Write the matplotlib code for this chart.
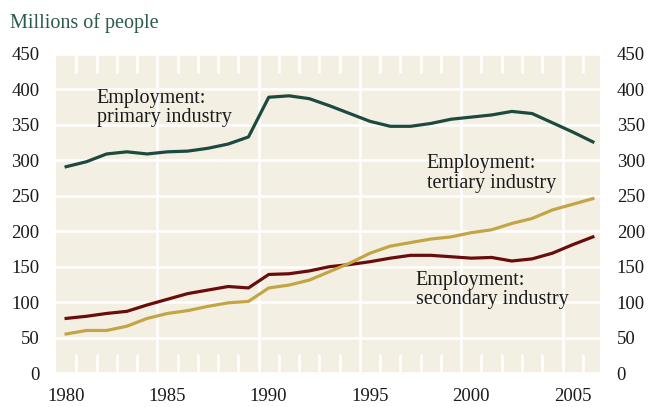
import matplotlib
matplotlib.use("Agg")
import matplotlib.pyplot as plt
import matplotlib.transforms as mtransforms
import numpy as np

plt.rcParams["font.family"] = ["Liberation Serif", "DejaVu Serif"]

years = list(range(1980, 2007))
primary = [291, 298, 309, 312, 309, 312, 313, 317, 323, 333,
           389, 391, 387, 377, 366, 355, 348, 348, 352, 358,
           361, 364, 369, 366, 353, 340, 326]
secondary = [77, 80, 84, 87, 96, 104, 112, 117, 122, 120,
             139, 140, 144, 150, 153, 157, 162, 166, 166, 164,
             162, 163, 158, 161, 169, 181, 192]
tertiary = [55, 60, 60, 66, 77, 84, 88, 94, 99, 101,
            120, 124, 131, 143, 155, 169, 179, 184, 189, 192,
            198, 202, 211, 218, 230, 238, 246]

y_ticks = [0, 50, 100, 150, 200, 250, 300, 350, 400, 450]
x_ticks = [1980, 1985, 1990, 1995, 2000, 2005]

c_primary = "#1d4a40"
c_secondary = "#6b0c0c"
c_tertiary = "#c4a545"
c_bg = "#f3f0e3"
c_text = "#1a1a1a"
fs_tick = 13.5
fs_note = 14.5

fig = plt.figure(figsize=(6.5, 4.07), dpi=100)
ax = fig.add_axes([56 / 650, 1 - 373 / 407, 544 / 650, 319 / 407])
ax.set_facecolor(c_bg)

x = np.array(years) + 0.5  # values plotted mid-year
ax.plot(x, primary, color=c_primary, lw=2.3, zorder=3)
ax.plot(x, secondary, color=c_secondary, lw=2.3, zorder=3)
ax.plot(x, tertiary, color=c_tertiary, lw=2.3, zorder=3)

ax.set_xlim(1980, 2006.85)
ax.set_ylim(0, 450)

ax.set_yticks(y_ticks)
ax.set_xticks(x_ticks)
ax.set_xticklabels([str(v) for v in x_ticks])
ax.set_xticks(years, minor=True)
ax.grid(True, which="major", color="white", lw=1.8, zorder=1)
ax.get_xgridlines()[0].set_visible(False)
ax.set_axisbelow(True)

for s in ax.spines.values():
    s.set_visible(False)

ax.tick_params(axis="y", which="major", length=0, labelsize=fs_tick, pad=12,
               labelcolor=c_text, left=True, right=True,
               labelleft=True, labelright=True)
ax.tick_params(axis="x", which="major", length=0, labelsize=fs_tick, pad=11,
               labelcolor=c_text)
ax.tick_params(axis="x", which="minor", direction="in", length=14,
               width=1.8, color="white", top=True, bottom=True)

# year labels sit in the middle of the year
offset = mtransforms.ScaledTranslation(10 / 100, 0, fig.dpi_scale_trans)
for lab in ax.get_xticklabels():
    lab.set_transform(lab.get_transform() + offset)

ax.text(1982.0, 374, "Employment:\nprimary industry", fontsize=fs_note,
        color=c_text, ha="left", va="center", linespacing=1.05)
ax.text(1998.3, 281, "Employment:\ntertiary industry", fontsize=fs_note,
        color=c_text, ha="left", va="center", linespacing=1.05)
ax.text(1997.75, 117, "Employment:\nsecondary industry", fontsize=fs_note,
        color=c_text, ha="left", va="center", linespacing=1.05)

fig.text(10 / 650, 1 - 28 / 407, "Millions of people", fontsize=fs_note,
         color="#2c5a4c", ha="left", va="baseline")

fig.savefig("out.png", dpi=100, facecolor="white")
